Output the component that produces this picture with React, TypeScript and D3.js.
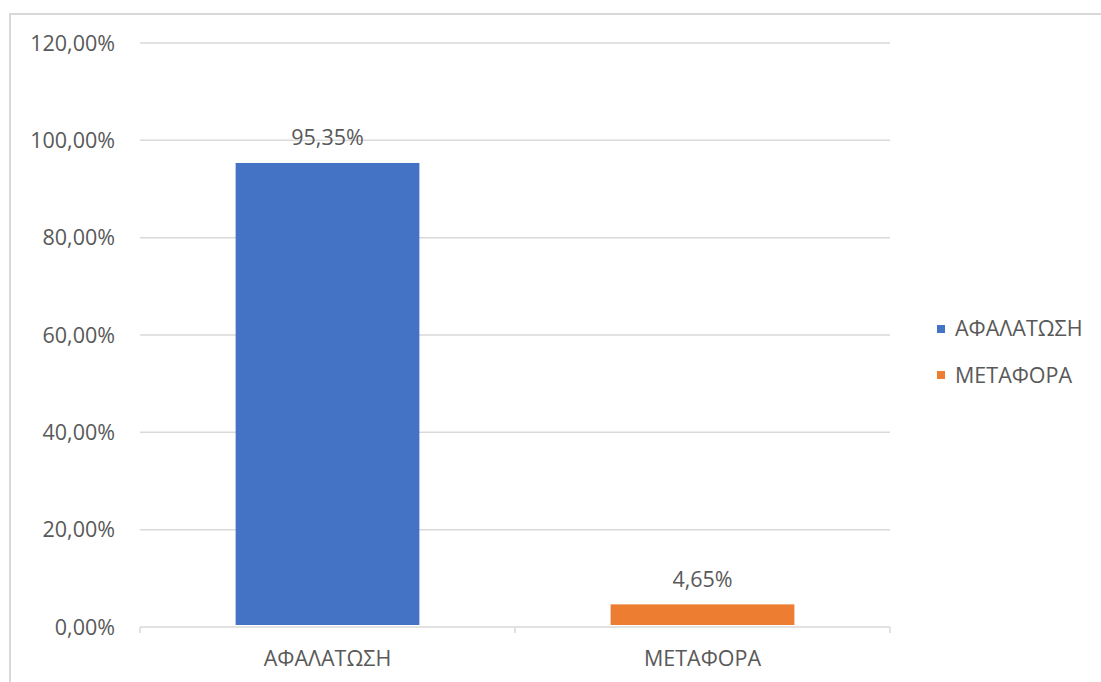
import React from "react";
import * as d3 from "d3";

const categories = ["ΑΦΑΛΑΤΩΣΗ", "ΜΕΤΑΦΟΡΑ"];
const values = [95.35, 4.65];
const colors = ["#4472C4", "#ED7D31"];
const yTicks = [0, 20, 40, 60, 80, 100, 120];

const W = 1101;
const H = 682;
const FONT = "'Open Sans', 'Noto Sans', sans-serif";
const TEXT = "#595959";
const FS = 21.5;

export default function App() {
  const left = 140, right = 890, top = 43, bottom = 627;
  const x = d3.scaleBand<string>().domain(categories).range([left, right]).paddingInner(0.51).paddingOuter(0.255);
  const xOuter = d3.scaleBand<string>().domain(categories).range([left, right]);
  const y = d3.scaleLinear().domain([0, 120]).range([bottom, top]);
  const fmt = (v: number) => v.toFixed(2).replace(".", ",") + "%";

  return (
    <svg width={W} height={H} style={{ position: "fixed", left: 0, top: 0, background: "#fff" }} fontFamily={FONT}>
      <rect x={10} y={14} width={1100} height={680} fill="none" stroke="#d9d9d9" strokeWidth={2} />
      {yTicks.map((t) => (
        <g key={t}>
          {t !== 0 && <line x1={left} x2={right} y1={y(t)} y2={y(t)} stroke="#d9d9d9" strokeWidth={1.5} />}
          <text x={115} y={y(t)} dy="0.35em" textAnchor="end" fontSize={FS} fill={TEXT}>{fmt(t)}</text>
        </g>
      ))}
      {categories.map((c, i) => (
        <g key={c}>
          <rect x={x(c)!} y={y(values[i])} width={x.bandwidth()} height={bottom - 2 - y(values[i])} fill={colors[i]} />
          <text x={x(c)! + x.bandwidth() / 2} y={y(values[i]) - 25} dy="0.35em" textAnchor="middle" fontSize={FS} fill={TEXT}>
            {fmt(values[i])}
          </text>
          <text x={xOuter(c)! + xOuter.bandwidth() / 2} y={658} dy="0.35em" textAnchor="middle" fontSize={FS} fill={TEXT}>{c}</text>
        </g>
      ))}
      <line x1={left} x2={right} y1={bottom} y2={bottom} stroke="#d9d9d9" strokeWidth={1.5} />
      {[...categories.map((c) => xOuter(c)!), right].map((tx, i) => (
        <line key={i} x1={tx} x2={tx} y1={bottom} y2={bottom + 6} stroke="#d9d9d9" strokeWidth={1.5} />
      ))}
      {categories.map((c, i) => (
        <g key={"lg" + c}>
          <rect x={937} y={(i === 0 ? 329 : 375) - 4} width={8} height={8} fill={colors[i]} />
          <text x={955} y={i === 0 ? 328 : 375} dy="0.35em" fontSize={FS} fill={TEXT}>{c}</text>
        </g>
      ))}
    </svg>
  );
}
